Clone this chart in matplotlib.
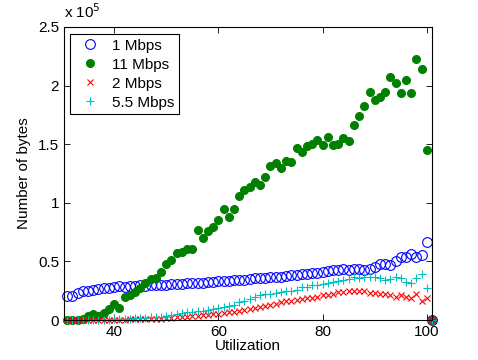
import matplotlib
matplotlib.use('Agg')
import matplotlib.pyplot as plt
from matplotlib.ticker import FuncFormatter

plt.rcParams['font.family'] = ['Liberation Sans', 'DejaVu Sans']

# utilization (%) and bytes, in units of 1e5 bytes
utilization = list(range(31, 102))

bytes_1mbps = [0.207, 0.207, 0.233, 0.247, 0.25, 0.256, 0.262, 0.27, 0.273, 0.279,
               0.288, 0.28, 0.29, 0.29, 0.295, 0.293, 0.298, 0.30, 0.30, 0.302,
               0.305, 0.31, 0.31, 0.312, 0.315, 0.318, 0.32, 0.325, 0.325, 0.33,
               0.33, 0.335, 0.34, 0.34, 0.345, 0.35, 0.355, 0.36, 0.36, 0.365,
               0.37, 0.37, 0.375, 0.38, 0.385, 0.39, 0.395, 0.40, 0.405, 0.41,
               0.42, 0.427, 0.43, 0.432, 0.43, 0.433, 0.432, 0.43, 0.432, 0.45,
               0.478, 0.48, 0.47, 0.50, 0.535, 0.54, 0.563, 0.54, 0.555, 0.663,
               0.0]

bytes_11mbps = [0.0, 0.0, 0.0, 0.005, 0.034, 0.05, 0.037, 0.057, 0.094, 0.137,
                0.10, 0.20, 0.21, 0.24, 0.27, 0.32, 0.35, 0.36, 0.41, 0.48,
                0.51, 0.57, 0.58, 0.61, 0.61, 0.77, 0.70, 0.76, 0.79, 0.85,
                0.95, 0.88, 0.95, 1.055, 1.11, 1.135, 1.18, 1.15, 1.22, 1.31,
                1.34, 1.30, 1.36, 1.35, 1.47, 1.43, 1.485, 1.50, 1.54, 1.49,
                1.56, 1.49, 1.50, 1.55, 1.53, 1.66, 1.74, 1.83, 1.945, 1.875,
                1.90, 1.945, 2.07, 2.02, 1.94, 2.05, 1.94, 2.23, 2.14, 1.45,
                0.0]

bytes_2mbps = [0.0, 0.0, 0.0, 0.0, 0.002, 0.002, 0.002, 0.003, 0.003, 0.004,
               0.004, 0.004, 0.005, 0.005, 0.005, 0.006, 0.008, 0.01, 0.012, 0.015,
               0.018, 0.022, 0.028, 0.03, 0.035, 0.038, 0.04, 0.045, 0.05, 0.055,
               0.06, 0.065, 0.07, 0.075, 0.085, 0.09, 0.10, 0.11, 0.12, 0.13,
               0.14, 0.15, 0.16, 0.165, 0.175, 0.18, 0.185, 0.19, 0.20, 0.21,
               0.215, 0.225, 0.235, 0.24, 0.245, 0.25, 0.25, 0.247, 0.228, 0.23,
               0.22, 0.22, 0.21, 0.20, 0.21, 0.20, 0.19, 0.22, 0.165, 0.19,
               0.0]

bytes_5_5mbps = [0.0, 0.0, 0.0, 0.002, 0.002, 0.003, 0.003, 0.004, 0.004, 0.005,
                 0.008, 0.01, 0.012, 0.015, 0.018, 0.02, 0.025, 0.028, 0.03, 0.035,
                 0.04, 0.05, 0.06, 0.065, 0.07, 0.075, 0.08, 0.085, 0.09, 0.10,
                 0.11, 0.12, 0.13, 0.15, 0.16, 0.18, 0.20, 0.21, 0.22, 0.22,
                 0.23, 0.235, 0.245, 0.25, 0.26, 0.28, 0.28, 0.30, 0.30, 0.31,
                 0.32, 0.327, 0.33, 0.34, 0.35, 0.364, 0.36, 0.37, 0.365, 0.37,
                 0.36, 0.34, 0.35, 0.364, 0.36, 0.327, 0.32, 0.356, 0.39, 0.27,
                 0.0]

fig = plt.figure(figsize=(4.78, 3.6), dpi=100)
ax = fig.add_axes([0.134, 0.111, 0.770, 0.814])

ax.plot(utilization, bytes_1mbps, 'o', mfc='none', mec='blue', ms=7, mew=0.8, label='1 Mbps', clip_on=False)
ax.plot(utilization, bytes_11mbps, 'o', color='green', mfc='green', mec='green', ms=5.5, label='11 Mbps', clip_on=False)
ax.plot(utilization, bytes_2mbps, 'x', color='red', ms=4.5, mew=0.8, label='2 Mbps', clip_on=False)
ax.plot(utilization, bytes_5_5mbps, '+', color='#00bfbf', ms=6, mew=0.8, label='5.5 Mbps', clip_on=False)

ax.set_xlim(30.4, 101)
ax.set_ylim(0, 2.5)
ax.set_xticks([40, 60, 80, 100])
ax.set_yticks([0, 0.5, 1, 1.5, 2, 2.5])
ax.yaxis.set_major_formatter(FuncFormatter(lambda v, p: '%g' % v))
ax.tick_params(direction='in', top=True, right=True, length=4, labelsize=11, width=0.6)
for s in ax.spines.values():
    s.set_linewidth(0.8)

ax.text(0.0, 1.02, r'x 10$^5$', transform=ax.transAxes, fontsize=11, ha='left', va='bottom')

ax.set_xlabel('Utilization', fontsize=11, labelpad=0)
ax.set_ylabel('Number of bytes', fontsize=11, labelpad=5)

leg = ax.legend(loc='upper left', bbox_to_anchor=(6 / 368, 1 - 7 / 293), borderaxespad=0,
                fontsize=11, fancybox=False, framealpha=1, edgecolor='black',
                borderpad=0.3, handlelength=2.0, handletextpad=0.45, labelspacing=0.33)
leg.get_frame().set_linewidth(0.8)

fig.savefig('out.png', dpi=100)
